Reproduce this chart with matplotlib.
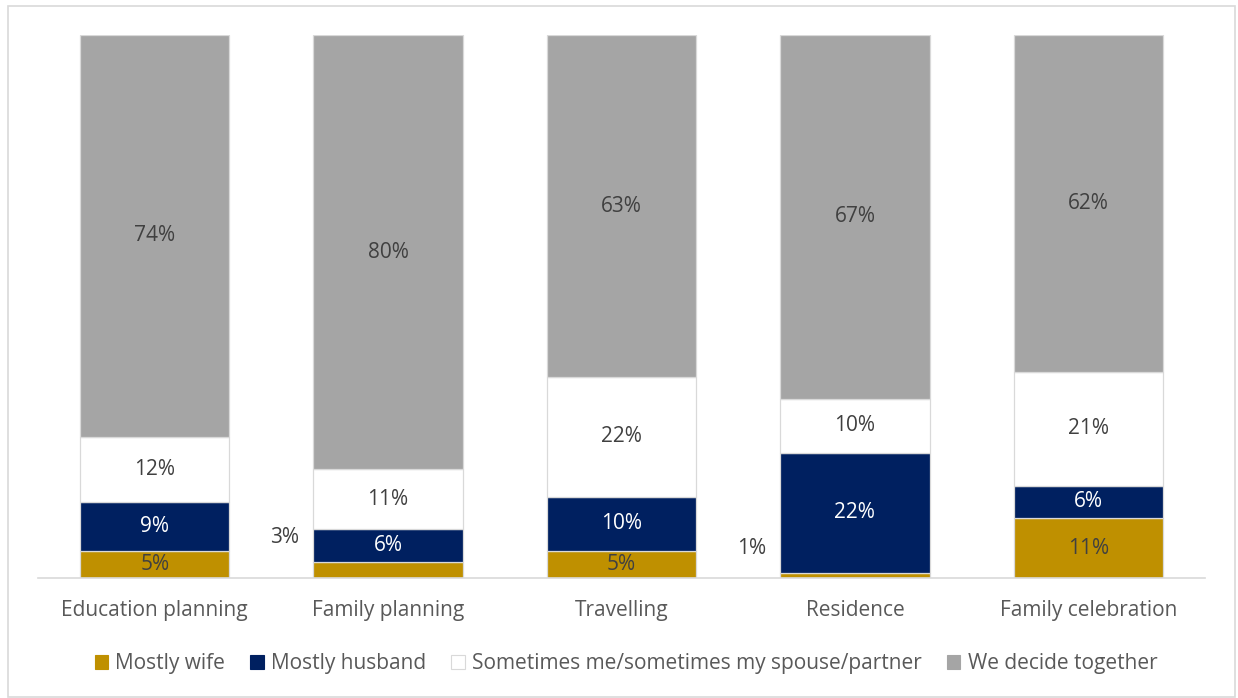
import matplotlib.pyplot as plt
from matplotlib.patches import Rectangle, Patch
import numpy as np

plt.rcParams['font.family'] = ['Open Sans', 'DejaVu Sans']

categories = ["Education planning", "Family planning", "Travelling", "Residence", "Family celebration"]
series = ["Mostly wife", "Mostly husband", "Sometimes me/sometimes my spouse/partner", "We decide together"]
mostly_wife = [5, 3, 5, 1, 11]
mostly_husband = [9, 6, 10, 22, 6]
sometimes = [12, 11, 22, 10, 21]
together = [74, 80, 63, 67, 62]

colors = ["#BF9000", "#002060", "#FFFFFF", "#A5A5A5"]
text_colors = ["#404040", "#FFFFFF", "#404040", "#404040"]
fs = 15

fig = plt.figure(figsize=(12.38, 6.98), dpi=100)
ax = fig.add_axes([38 / 1238, 120 / 698, (1205 - 38) / 1238, (663 - 120) / 698])

x = np.arange(len(categories))
width = 0.64
bottom = np.zeros(len(categories))
for vals, col, tcol in zip([mostly_wife, mostly_husband, sometimes, together], colors, text_colors):
    vals = np.array(vals, dtype=float)
    ax.bar(x, vals, width, bottom=bottom, color=col, edgecolor="#D9D9D9", linewidth=0.9)
    for xi, b, v in zip(x, bottom, vals):
        if v >= 5:
            ax.text(xi, b + v / 2, f"{v:.0f}%", ha="center", va="center",
                    color=tcol, fontsize=fs)
        else:
            # small slices get their label to the left of the bar
            ax.text(xi - width / 2 - 0.06, b + v + 4.5, f"{v:.0f}%", ha="right", va="center",
                    color="#404040", fontsize=fs)
    bottom += vals

ax.set_xlim(-0.5, 4.5)
ax.set_ylim(0, 100)
ax.set_yticks([])
ax.set_xticks(x)
ax.set_xticklabels(categories, fontsize=fs, color="#595959")
ax.tick_params(axis="x", length=0, pad=16)
for side in ["top", "right", "left"]:
    ax.spines[side].set_visible(False)
ax.spines["bottom"].set_color("#D9D9D9")
ax.spines["bottom"].set_linewidth(1.2)

handles = [Patch(facecolor=c, edgecolor="#D9D9D9" if c == "#FFFFFF" else c, linewidth=0.8) for c in colors]
leg = fig.legend(handles, series, loc="center", bbox_to_anchor=(626 / 1238, 1 - 664 / 698),
                 ncol=4, frameon=False, fontsize=fs, handlelength=0.65, handleheight=0.65,
                 handletextpad=0.35, columnspacing=1.2)
for t in leg.get_texts():
    t.set_color("#595959")

# chart frame
fig.patches.append(Rectangle((8 / 1238, 0.002), (1235 - 8) / 1238, (693 - 2) / 698,
                             transform=fig.transFigure, fill=False,
                             edgecolor="#D9D9D9", linewidth=1.2))

fig.savefig("out.png", dpi=100)
